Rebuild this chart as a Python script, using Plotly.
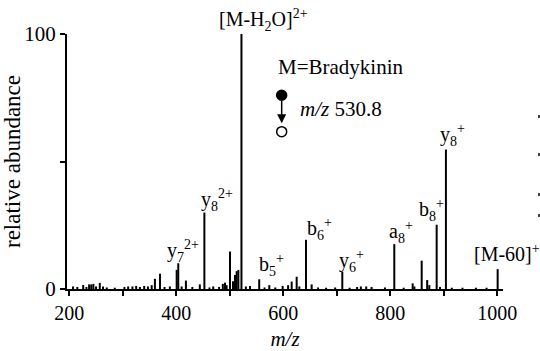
import plotly.graph_objects as go

# ---- data ----
mz = [207, 215, 226, 232, 237, 241, 245, 250, 257, 263, 270, 285, 303, 310, 318, 325, 332,
      340, 347, 354, 360, 369.5, 378, 388, 400.7, 403.7, 410, 418, 430, 444, 452.5, 462,
      469, 480, 487, 491, 494, 500.4, 506, 509.7, 512.8, 516, 521.8, 530, 537.8, 555,
      565, 573.8, 585, 598.8, 609, 615.7, 625, 630, 642.4, 653, 665, 680, 697, 710.3,
      724, 738, 745, 755, 765, 790, 807.5, 825, 841.8, 845, 858.7, 869, 873, 886.7,
      893, 904, 915, 935, 960, 980, 1000.7]
intensity = [1.0, 0.8, 1.6, 0.8, 1.8, 1.8, 2.0, 1.0, 2.4, 1.0, 0.6, 0.5, 0.8, 1.0, 1.0, 1.2, 0.8,
             1.2, 1.0, 1.5, 4.0, 6.0, 0.8, 1.0, 7.5, 10.1, 1.0, 3.3, 0.8, 1.8, 30, 0.6,
             1.0, 0.8, 2.0, 2.5, 1.5, 14.7, 3.0, 5.5, 7.0, 7.5, 100, 1.0, 1.2, 3.8,
             0.6, 1.5, 0.6, 1.2, 1.5, 2.9, 4.8, 1.0, 19.3, 1.8, 0.6, 0.5, 0.6, 6.8,
             0.5, 0.8, 1.0, 1.0, 0.8, 0.6, 17.6, 0.5, 2.2, 1.0, 11.1, 3.5, 1.5, 25.2,
             0.8, 54.7, 0.5, 0.5, 0.5, 0.5, 7.8]

label_text = ["y<sub>8</sub><sup>2+</sup>", "y<sub>7</sub><sup>2+</sup>",
              "b<sub>5</sub><sup>+</sup>", "b<sub>6</sub><sup>+</sup>", "y<sub>6</sub><sup>+</sup>",
              "a<sub>8</sub><sup>+</sup>", "b<sub>8</sub><sup>+</sup>", "y<sub>8</sub><sup>+</sup>",
              "[M-60]<sup>+</sup>"]
label_x = [441.5, 378, 550, 640, 700.5, 793, 849, 890, 952]
label_y = [35.0, 15.0, 9.5, 23.5, 11.0, 22.5, 31.0, 60.5, 14.0]

top_label = "[M-H<sub>2</sub>O]<sup>2+</sup>"
precursor_text = "<i>m/z</i> 530.8"
title_text = "M=Bradykinin"
xtick_vals = [200, 300, 400, 500, 600, 700, 800, 900, 1000]
xtick_text = ["200", "", "400", "", "600", "", "800", "", "1000"]
ytick_vals = [0, 50, 100]
ytick_text = ["0", "", "100"]

# ---- figure ----
xs, ys = [], []
for m, h in zip(mz, intensity):
    xs += [m, m, None]
    ys += [0, h, None]

fig = go.Figure(go.Scatter(x=xs, y=ys, mode="lines", line=dict(color="black", width=2),
                           hoverinfo="skip", showlegend=False, cliponaxis=False))

FONT = "Times New Roman"
BLACK = "#000000"
ann = []
for t, x, y in zip(label_text, label_x, label_y):
    ann.append(dict(x=x, y=y, xref="x", yref="y", text=t, showarrow=False,
                    xanchor="left", yanchor="middle", font=dict(size=20, family=FONT, color=BLACK)))
ann.append(dict(x=(217 - 67) / 436, y=(289 - 20) / 255, xref="paper", yref="paper", text=top_label,
                showarrow=False, xanchor="left", yanchor="middle",
                font=dict(size=20, family=FONT, color=BLACK)))
ann.append(dict(x=586, y=87, xref="x", yref="y", text=title_text, showarrow=False,
                xanchor="left", yanchor="middle", font=dict(size=21, family=FONT, color=BLACK)))
ann.append(dict(x=627, y=70.5, xref="x", yref="y", text=precursor_text, showarrow=False,
                xanchor="left", yanchor="middle", font=dict(size=21, family=FONT, color=BLACK)))
# arrow
ann.append(dict(x=597, y=65.0, xref="x", yref="y", ax=0, ay=-24, text="", showarrow=True,
                arrowhead=2, arrowsize=1.2, arrowwidth=1.5, arrowcolor=BLACK))
fig.update_layout(annotations=ann)

fig.add_shape(type="circle", xref="x", yref="y", xsizemode="pixel", ysizemode="pixel",
              xanchor=597, yanchor=76, x0=-5, x1=5, y0=-5, y1=5,
              fillcolor=BLACK, line=dict(color=BLACK, width=1.5))
fig.add_shape(type="circle", xref="x", yref="y", xsizemode="pixel", ysizemode="pixel",
              xanchor=597, yanchor=61.7, x0=-5, x1=5, y0=-5, y1=5,
              fillcolor="white", line=dict(color=BLACK, width=1.5))
for py in [118, 156, 196, 217]:
    yp = (289 - py) / 255
    fig.add_shape(type="line", xref="paper", yref="paper",
                  x0=(539 - 67) / 436, x1=(539 - 67) / 436, y0=yp, y1=yp + 3 / 255,
                  line=dict(color=BLACK, width=1.5))

fig.update_layout(
    width=540, height=351,
    margin=dict(l=67, r=37, t=34, b=62),
    paper_bgcolor="white", plot_bgcolor="white",
    font=dict(family=FONT, size=20, color=BLACK),
    xaxis=dict(range=[195.7, 1010.7], showgrid=False, zeroline=False, automargin=False,
               showline=True, linecolor=BLACK, linewidth=2,
               ticks="outside", ticklen=5, tickwidth=1.5, tickcolor=BLACK,
               tickvals=xtick_vals, ticktext=xtick_text,
               tickfont=dict(size=20, family=FONT, color=BLACK),
               title=dict(text="<i>m/z</i>", font=dict(size=21, family=FONT, color=BLACK), standoff=9)),
    yaxis=dict(range=[0, 100], showgrid=False, zeroline=False, automargin=False,
               showline=True, linecolor=BLACK, linewidth=2,
               ticks="outside", ticklen=5, tickwidth=1.5, tickcolor=BLACK,
               tickvals=ytick_vals, ticktext=ytick_text,
               tickfont=dict(size=21, family=FONT, color=BLACK),
               title=dict(text="relative abundance", font=dict(size=23, family=FONT, color=BLACK), standoff=5)),
)

fig.write_html("out.html")
